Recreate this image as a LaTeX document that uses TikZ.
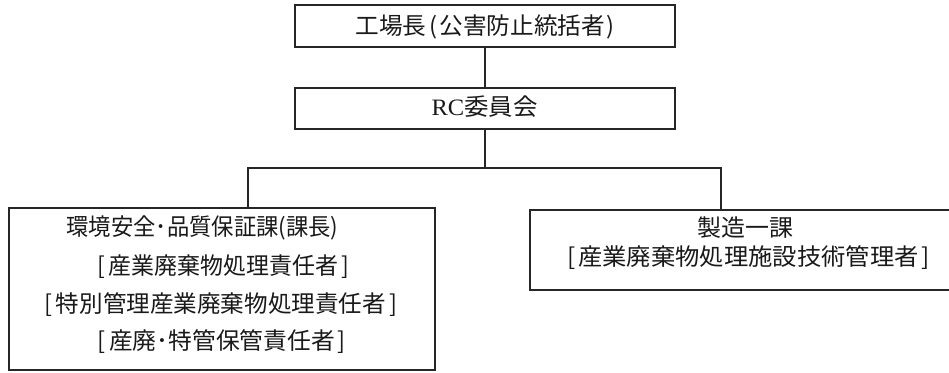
\documentclass[tikz,border=0pt]{standalone}
\usepackage{graphicx}
\usepackage{fontspec}
\newfontfamily\cjk{Noto Sans CJK JP}
\newfontfamily\latn{Liberation Serif}
\newcommand{\jsz}{\fontsize{23.5}{27}\selectfont}
\newcommand{\fitw}[2]{\resizebox{#1}{\height}{#2}}
\newcommand{\lb}{[\hspace{3pt}}
\newcommand{\rb}{\hspace{3pt}]}
\begin{document}
\begin{tikzpicture}[x=1pt,y=-1pt,
  box/.style={draw=black!85,line width=1.8pt,rectangle,inner sep=0pt},
  lbl/.style={inner sep=0pt,text=black!90,font=\cjk\jsz},
  conn/.style={draw=black!85,line width=1.8pt}]
\clip (0,0) rectangle (949,372);
\useasboundingbox (0,0) rectangle (949,372);
% boxes
\node[box,minimum width=380pt,minimum height=42pt] (top) at (485,26) {};
\node[box,minimum width=380pt,minimum height=41pt] (rc) at (485,108.5) {};
\node[box,minimum width=426pt,minimum height=162pt] (left) at (222,289) {};
\node[box,minimum width=440pt,minimum height=80pt] (right) at (750,250) {};
% texts
\node[lbl] (t1) at (485,27) {\fitw{259pt}{工場長\hspace{3.5pt}(\hspace{1.5pt}公害防止統括者\hspace{1.5pt})}};
\node[lbl] (t2) at (484.5,107) {\fitw{106pt}{{\latn\jsz RC}委員会}};
\node[lbl] (l1) at (202.5,228) {\fitw{272pt}{環境安全･品質保証課(課長)}};
\node[lbl] (l2) at (223.5,267) {\fitw{251pt}{\lb 産業廃棄物処理責任者\rb}};
\node[lbl] (l3) at (221,305) {\fitw{352pt}{\lb 特別管理産業廃棄物処理責任者\rb}};
\node[lbl] (l4) at (222,342) {\fitw{248pt}{\lb 産廃･特管保管責任者\rb}};
\node[lbl] (r1) at (745,228) {\fitw{96pt}{製造一課}};
\node[lbl] (r2) at (748.5,258) {\fitw{363pt}{\lb 産業廃棄物処理施設技術管理者\rb}};
% connectors
\coordinate (j) at (485,168);
\coordinate (jl) at (248,168);
\coordinate (jr) at (721,168);
\draw[conn] (top.south) -- (rc.north);
\draw[conn] (rc.south) -- (j);
\draw[conn,line cap=rect] (jl) -- (jr);
\draw[conn] (jl) -- (jl |- left.north);
\draw[conn] (jr) -- (jr |- right.north);
\end{tikzpicture}
\end{document}
